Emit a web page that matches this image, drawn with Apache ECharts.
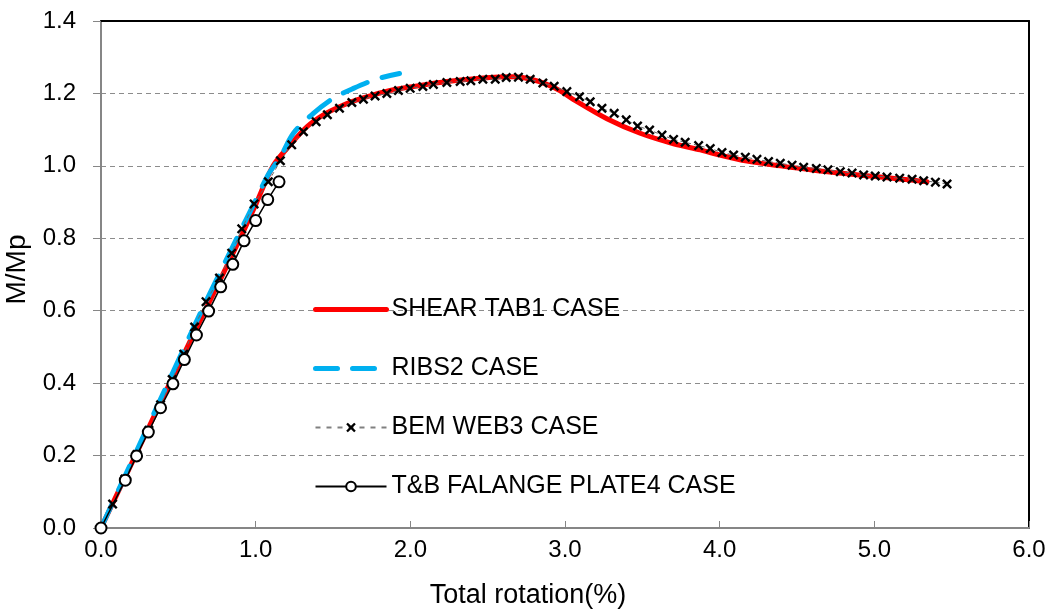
<!DOCTYPE html>
<html>
<head>
<meta charset="utf-8">
<script src="https://cdn.jsdelivr.net/npm/echarts@6/dist/echarts.min.js"></script>
<style>
html,body{margin:0;padding:0;background:#fff;}
#chart{width:1052px;height:609px;}
</style>
</head>
<body>
<div id="chart"></div>
<script>
// ---- data ----
var xTicks = [0, 1, 2, 3, 4, 5, 6];
var yTicks = [0, 0.2, 0.4, 0.6, 0.8, 1.0, 1.2, 1.4];

var seriesNames = ['SHEAR TAB1 CASE', 'RIBS2 CASE', 'BEM WEB3 CASE', 'T&B FALANGE PLATE4 CASE'];

var shearX = [0, 0.2, 0.4, 0.6, 0.673, 0.9, 1.0, 1.113, 1.223, 1.331, 1.438, 1.546, 1.654, 1.761, 1.869, 2.02, 2.236, 2.451, 2.667, 2.775, 2.883, 2.969, 3.055, 3.271, 3.486, 3.702, 3.875, 3.961, 4.177, 4.392, 4.607, 4.823, 5.039, 5.254, 5.341];
var shearY = [0, 0.18, 0.36, 0.537, 0.6, 0.8, 0.893, 1.0, 1.058, 1.108, 1.141, 1.164, 1.182, 1.196, 1.208, 1.219, 1.233, 1.242, 1.246, 1.240, 1.225, 1.207, 1.183, 1.130, 1.090, 1.061, 1.044, 1.034, 1.013, 1.0, 0.988, 0.978, 0.969, 0.960, 0.956];

var ribsX = [0, 0.2, 0.4, 0.65, 0.878, 1.0, 1.08, 1.16, 1.244, 1.373, 1.503, 1.632, 1.783, 1.93];
var ribsY = [0, 0.185, 0.37, 0.6, 0.8, 0.905, 0.975, 1.025, 1.09, 1.145, 1.187, 1.214, 1.24, 1.255];

var bemX = [0, 0.075, 0.155, 0.232, 0.31, 0.385, 0.46, 0.535, 0.605, 0.679, 0.766, 0.845, 0.910, 0.990, 1.082, 1.16, 1.233, 1.309, 1.391, 1.464, 1.542, 1.622, 1.697, 1.772, 1.848, 1.923, 1.999, 2.081, 2.149, 2.236, 2.322, 2.391, 2.469, 2.549, 2.620, 2.699, 2.775, 2.857, 2.930, 3.012, 3.094, 3.163, 3.239, 3.318, 3.396, 3.469, 3.547, 3.627, 3.702, 3.777, 3.864, 3.939, 4.015, 4.090, 4.166, 4.241, 4.316, 4.392, 4.468, 4.543, 4.625, 4.700, 4.780, 4.856, 4.931, 5.006, 5.082, 5.164, 5.244, 5.319, 5.395, 5.470];
var bemY = [0, 0.066, 0.135, 0.203, 0.27, 0.34, 0.41, 0.48, 0.555, 0.625, 0.690, 0.759, 0.826, 0.895, 0.956, 1.014, 1.058, 1.094, 1.122, 1.141, 1.159, 1.175, 1.184, 1.193, 1.200, 1.208, 1.214, 1.219, 1.225, 1.230, 1.233, 1.235, 1.239, 1.239, 1.244, 1.245, 1.239, 1.229, 1.220, 1.205, 1.191, 1.177, 1.159, 1.145, 1.127, 1.110, 1.099, 1.085, 1.073, 1.065, 1.056, 1.048, 1.037, 1.030, 1.024, 1.018, 1.012, 1.007, 1.002, 0.996, 0.993, 0.989, 0.984, 0.980, 0.975, 0.972, 0.969, 0.966, 0.963, 0.959, 0.955, 0.950];

var tbX = [0, 0.157, 0.230, 0.306, 0.385, 0.465, 0.539, 0.617, 0.696, 0.774, 0.852, 0.925, 1.0, 1.078, 1.151];
var tbY = [0, 0.132, 0.199, 0.265, 0.332, 0.398, 0.465, 0.533, 0.599, 0.666, 0.728, 0.793, 0.849, 0.907, 0.956];

function pairs(xs, ys) { return xs.map(function (x, i) { return [x, ys[i]]; }); }

var FONT = 'Liberation Sans, Arial, sans-serif';
var crossPath = 'path://M0,1.7 L1.7,0 L5,3.3 L8.3,0 L10,1.7 L6.7,5 L10,8.3 L8.3,10 L5,6.7 L1.7,10 L0,8.3 L3.3,5 Z';
var xMin = xTicks[0], xMax = xTicks[xTicks.length - 1];
var yMin = yTicks[0], yMax = yTicks[yTicks.length - 1];

var chart = echarts.init(document.getElementById('chart'), null, {renderer: 'canvas'});
chart.setOption({
  animation: false,
  backgroundColor: '#ffffff',
  textStyle: {fontFamily: FONT},
  grid: {left: 101, right: 23, top: 21, bottom: 81, show: false, containLabel: false, outerBoundsMode: 'none'},
  legend: {
    orient: 'vertical', left: 313, top: 297, padding: 0,
    itemWidth: 71, itemHeight: 12, itemGap: 34,
    textStyle: {fontSize: 25, color: '#000', fontFamily: FONT, lineHeight: 24},
    data: [
      {name: seriesNames[0], itemStyle: {opacity: 0}, lineStyle: {width: 5, color: '#ff0000', cap: 'round'}},
      {name: seriesNames[1], itemStyle: {opacity: 0}, lineStyle: {width: 5, color: '#00b0f0', type: [22, 15], cap: 'round'}},
      {name: seriesNames[2], lineStyle: {width: 2, color: '#808080', type: [5, 6]}},
      {name: seriesNames[3]}
    ]
  },
  xAxis: [{
    type: 'value', min: xMin, max: xMax, interval: 1,
    name: 'Total rotation(%)', nameLocation: 'middle', nameGap: 54,
    nameTextStyle: {fontSize: 27, color: '#000', fontFamily: FONT, padding: [0, 74, 0, 0]},
    axisLine: {show: true, onZero: false, lineStyle: {color: '#868686', width: 2}},
    axisTick: {show: true, inside: true, length: 7, lineStyle: {color: '#868686', width: 1}},
    axisLabel: {fontSize: 24, color: '#000', margin: 10, formatter: function (v) { return v.toFixed(1); }},
    splitLine: {show: false}
  }, {
    type: 'value', position: 'top', min: xMin, max: xMax, interval: 1,
    axisLine: {show: true, onZero: false, lineStyle: {color: '#000000', width: 2}},
    axisTick: {show: false}, axisLabel: {show: false}, splitLine: {show: false}
  }],
  yAxis: [{
    type: 'value', min: yMin, max: yMax, interval: 0.2,
    name: 'M/Mp', nameLocation: 'middle', nameGap: 61,
    nameTextStyle: {fontSize: 28, color: '#000', fontFamily: FONT, padding: [0, 0, 0, 10]},
    axisLine: {show: true, onZero: false, lineStyle: {color: '#868686', width: 2}},
    axisTick: {show: true, inside: false, length: 8, lineStyle: {color: '#868686', width: 1}},
    axisLabel: {fontSize: 24, color: '#000', margin: 25, formatter: function (v) { return v.toFixed(1); }},
    splitLine: {show: true, lineStyle: {color: '#8c8c8c', width: 1, type: [5, 4]}}
  }, {
    type: 'value', position: 'right', min: yMin, max: yMax, interval: 0.2,
    axisLine: {show: true, onZero: false, lineStyle: {color: '#000000', width: 2}},
    axisTick: {show: false}, axisLabel: {show: false}, splitLine: {show: false}
  }],
  series: [
    {
      name: seriesNames[0], type: 'line', data: pairs(shearX, shearY), smooth: 0.3,
      symbol: 'none', lineStyle: {color: '#ff0000', width: 5, cap: 'round'}, itemStyle: {color: '#ff0000'}
    },
    {
      name: seriesNames[1], type: 'line', data: pairs(ribsX, ribsY), smooth: 0.3,
      symbol: 'none', lineStyle: {color: '#00b0f0', width: 5, type: [26, 16], cap: 'round'}, itemStyle: {color: '#00b0f0'}
    },
    {
      name: seriesNames[2], type: 'line', data: pairs(bemX, bemY),
      symbol: crossPath, symbolSize: 10, showAllSymbol: true,
      lineStyle: {color: '#666666', width: 1, type: [4, 3]},
      itemStyle: {color: '#000000'}
    },
    {
      name: seriesNames[3], type: 'line', data: pairs(tbX, tbY),
      symbol: 'circle', symbolSize: 11, showAllSymbol: true,
      lineStyle: {color: '#000000', width: 1.5},
      itemStyle: {color: '#ffffff', borderColor: '#000000', borderWidth: 2}
    }
  ]
});
</script>
</body>
</html>
